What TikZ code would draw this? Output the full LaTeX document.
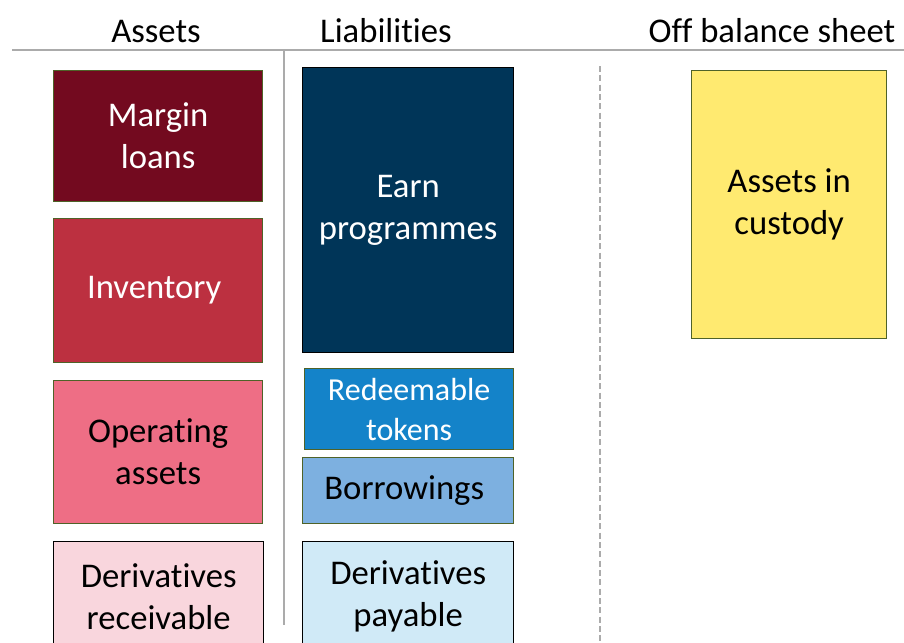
\documentclass[tikz,border=0pt]{standalone}
\usepackage{fontspec}
\setmainfont{Carlito}[Ligatures=NoCommon]

\definecolor{edgegreen}{HTML}{4F6228}
\definecolor{rulegray}{HTML}{ABABAB}
\definecolor{marginred}{HTML}{730A1F}
\definecolor{invred}{HTML}{BC3040}
\definecolor{oppink}{HTML}{EE6E85}
\definecolor{drvpink}{HTML}{F9D6DD}
\definecolor{earnblue}{HTML}{003558}
\definecolor{tokblue}{HTML}{1483C9}
\definecolor{borblue}{HTML}{7DB0E0}
\definecolor{drvblue}{HTML}{D0EAF7}
\definecolor{custyellow}{HTML}{FFEA70}

\begin{document}
\begin{tikzpicture}
      [x=0.75pt, y=-0.75pt,
       item/.style={
           rectangle,
           draw=edgegreen, line width=1pt,
           anchor=north west, inner sep=0pt,
           align=center,
           font=\fontsize{26pt}{31.5pt}\selectfont
         },
       dims/.style 2 args={minimum width=#1*0.75pt, minimum height=#2*0.75pt},
       head/.style={anchor=base, font=\fontsize{26pt}{31.5pt}\selectfont},
       divider/.style={draw=rulegray, line width=2.2pt},
       ]
    \path [use as bounding box, clip] (0,0) rectangle (904,643);

    % column titles
    \node [head] (assets) at (156,42) {Assets};
    \node [head] (liab) at (386,42) {Liabilities};
    \node [head] (offbs) at (772,42) {Off balance sheet};

    \draw [divider] (12,50) -- (904,50);
    \draw [rulegray, line width=1.5pt] (284,50) -- (284,625);
    \draw [rulegray, line width=1pt, dash pattern=on 4.5pt off 2.5pt] (600,66) -- (600,643);

    % assets
    \node [item, dims={209}{131}, fill=marginred, text=white] (margin) at (53,70) {
      Margin\\loans
    };
    \node [item, dims={209}{144}, fill=invred, text=white] (inv) at (53,218) {
      Inventory
    };
    \node [item, dims={209}{143}, fill=oppink] (opassets) at (53,380) {
      Operating\\assets
    };
    \node [item, dims={210}{110}, fill=drvpink, draw=black] (drvrec) at (53,541) {
      Derivatives\\receivable
    };

    % liabilities
    \node [item, dims={211}{285}, fill=earnblue, draw=black, text=white] (earn) at (302,67) {
      Earn\\programmes
    };
    \node [item, dims={209}{81}, fill=tokblue, text=white,
           font=\fontsize{24pt}{30pt}\selectfont] (tokens) at (304,368) {
      Redeemable\\tokens
    };
    \node [item, dims={211}{66}, fill=borblue] (borrow) at (302,457) {
      Borrowings
    };
    \node [item, dims={211}{110}, fill=drvblue, draw=black] (drvpay) at (302,541) {
      Derivatives\\payable
    };

    % off balance sheet
    \node [item, dims={195}{268}, fill=custyellow] (custody) at (691,70) {
      Assets in\\custody
    };

  \end{tikzpicture}
\end{document}
